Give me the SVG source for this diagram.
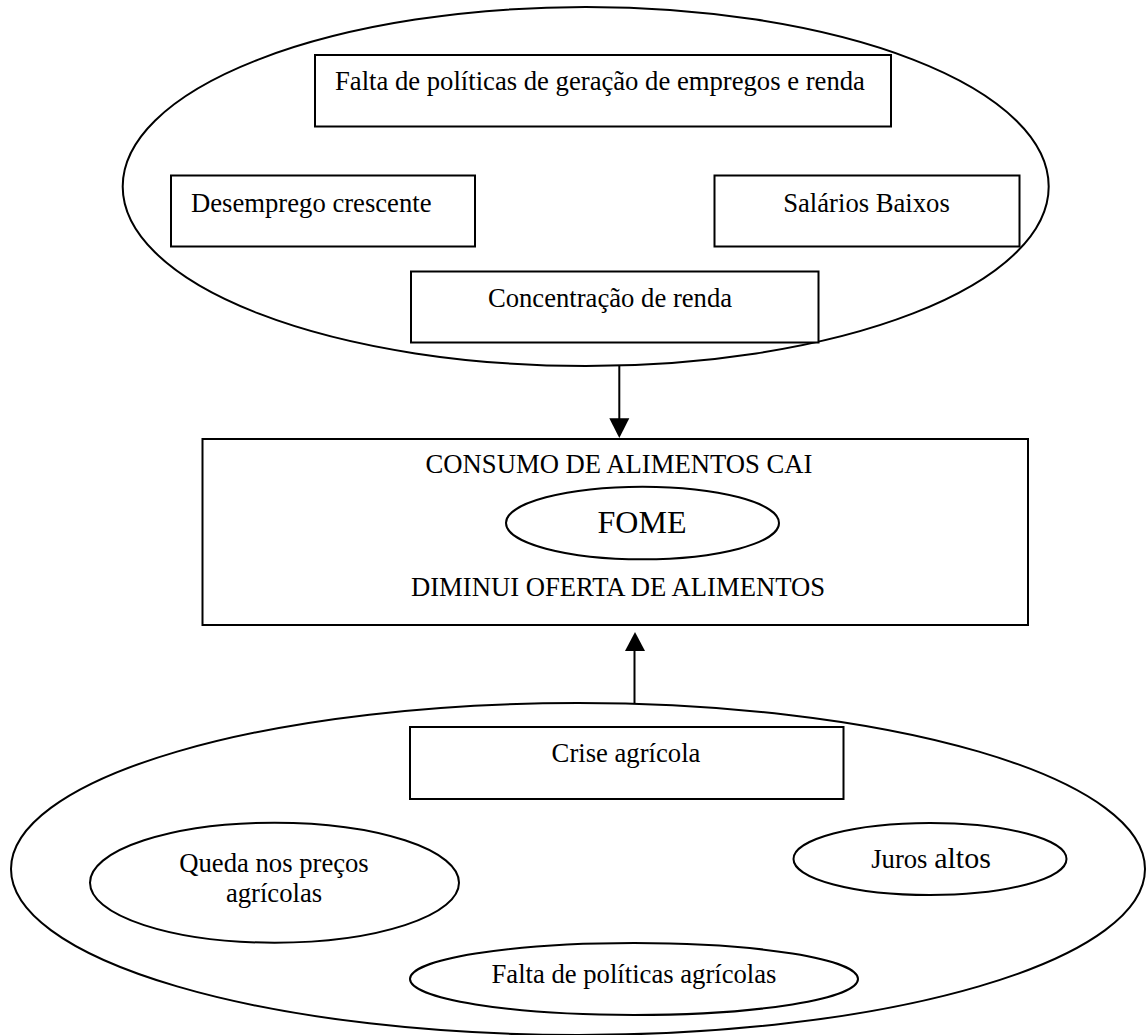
<svg xmlns="http://www.w3.org/2000/svg" width="1147" height="1035" viewBox="0 0 1147 1035">
<style>
.s{fill:none;stroke:#000;stroke-width:2}
.w{fill:#fff;stroke:#000;stroke-width:2}
text{font-family:"Liberation Serif","Times New Roman",serif;font-size:26.67px;fill:#000}
.c{text-anchor:middle}
</style>
<rect width="1147" height="1035" fill="#fff"/>
<g id="grupo-renda">
<ellipse class="s" cx="585.7" cy="186.5" rx="463" ry="179.5"/>
</g>
<g id="falta-politicas-emprego">
<rect class="w" x="315" y="55" width="576" height="71.5"/>
<text x="335" y="90">Falta de políticas de geração de empregos e renda</text>
</g>
<g id="desemprego">
<rect class="w" x="171" y="175.5" width="304" height="71"/>
<text x="191" y="211.5">Desemprego crescente</text>
</g>
<g id="salarios">
<rect class="w" x="714.5" y="175.5" width="305" height="71"/>
<text class="c" x="866.5" y="211.5">Salários Baixos</text>
</g>
<g id="concentracao">
<rect class="w" x="411" y="271.5" width="407.5" height="71"/>
<text class="c" x="610" y="306.5">Concentração de renda</text>
</g>
<g id="centro">
<rect class="w" x="202.5" y="439" width="825.5" height="186"/>
<text class="c" x="619" y="473.3">CONSUMO DE ALIMENTOS CAI</text>
<text class="c" x="618" y="596">DIMINUI OFERTA DE ALIMENTOS</text>
</g>
<g id="fome">
<ellipse class="s" cx="642.5" cy="523" rx="136.5" ry="36.3"/>
<text class="c" x="642" y="533.3" style="font-size:32px">FOME</text>
</g>
<g id="grupo-agricola">
<ellipse class="s" cx="578" cy="869" rx="567" ry="166"/>
</g>
<g id="crise">
<rect class="w" x="410" y="727" width="433.5" height="72"/>
<text class="c" x="626" y="761.7">Crise agrícola</text>
</g>
<g id="queda">
<ellipse class="s" cx="274.5" cy="882.7" rx="184.5" ry="60"/>
<text class="c" x="274" y="871.7">Queda nos preços</text>
<text class="c" x="274" y="901.7">agrícolas</text>
</g>
<g id="juros">
<ellipse class="s" cx="930" cy="859" rx="136.5" ry="36"/>
<text class="c" x="931" y="868">Juros <tspan style="font-size:30px">altos</tspan></text>
</g>
<g id="falta-politicas-agricolas">
<ellipse class="s" cx="634" cy="979" rx="224" ry="36"/>
<text class="c" x="634" y="983.3">Falta de políticas agrícolas</text>
</g>
<g id="conectores">
<line class="s" x1="619.3" y1="366" x2="619.3" y2="419"/>
<polygon points="609.3,418.3 629.3,418.3 619.3,438" fill="#000"/>
<line class="s" x1="634.5" y1="703" x2="634.5" y2="650"/>
<polygon points="625,651 645,651 635,632" fill="#000"/>
</g>
</svg>
